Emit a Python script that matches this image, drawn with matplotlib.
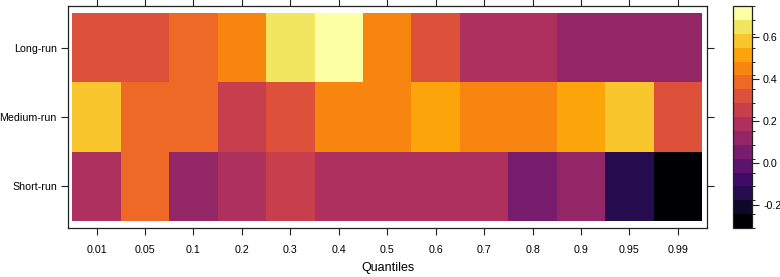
import numpy as np
import matplotlib
matplotlib.use("Agg")
import matplotlib.pyplot as plt
from matplotlib.colors import ListedColormap, BoundaryNorm
from matplotlib.cm import ScalarMappable

plt.rcParams['font.family'] = ['Liberation Sans', 'DejaVu Sans']
plt.rcParams['axes.unicode_minus'] = False

quantiles = ["0.01", "0.05", "0.1", "0.2", "0.3", "0.4", "0.5", "0.6", "0.7", "0.8", "0.9", "0.95", "0.99"]
horizons = ["Short-run", "Medium-run", "Long-run"]

short_run = [0.19, 0.39, 0.12, 0.19, 0.25, 0.19, 0.19, 0.19, 0.19, 0.06, 0.12, -0.15, -0.30]
medium_run = [0.59, 0.39, 0.39, 0.25, 0.32, 0.45, 0.45, 0.52, 0.45, 0.45, 0.52, 0.59, 0.32]
long_run = [0.32, 0.32, 0.39, 0.45, 0.65, 0.74, 0.45, 0.32, 0.19, 0.19, 0.12, 0.12, 0.12]

data = np.array([short_run, medium_run, long_run])

n_bins = 16
zmin, zmax = data.min(), data.max()
r = zmax - zmin
breaks = np.linspace(zmin - 0.01 * r, zmax + 0.01 * r, n_bins + 1)
cmap = ListedColormap(plt.get_cmap('inferno')(np.linspace(0, 1, n_bins)))
norm = BoundaryNorm(breaks, cmap.N)

fig = plt.figure(figsize=(7.8, 2.77), dpi=100)
ax = fig.add_axes([68/780, 49/277, 639/780, 222/277])
xe = np.arange(len(quantiles) + 1) - 0.5
ye = np.arange(len(horizons) + 1) - 0.5
ax.pcolormesh(xe, ye, data, cmap=cmap, norm=norm, edgecolors='none', antialiased=False)
ax.set_xlim(-0.59, len(quantiles) - 0.4)
ax.set_ylim(-0.6, len(horizons) - 0.4)

ax.set_xticks(np.arange(len(quantiles)))
ax.set_xticklabels(quantiles)
ax.set_yticks(np.arange(len(horizons)))
ax.set_yticklabels(horizons)
ax.tick_params(axis='both', which='both', direction='out', length=5, width=0.8,
               colors='#222222', labelsize=7.7, labelcolor='black',
               top=True, right=True, labeltop=False, labelright=False)
ax.tick_params(axis='x', pad=7)
ax.tick_params(axis='y', pad=3)
for s in ax.spines.values():
    s.set_linewidth(0.9)
    s.set_color('#222222')
ax.set_xlabel("Quantiles", fontsize=9, labelpad=5)

cax = fig.add_axes([733/780, 49/277, 19/780, 222/277])
sm = ScalarMappable(norm=norm, cmap=cmap)
cb = fig.colorbar(sm, cax=cax, ticks=[-0.2, 0.0, 0.2, 0.4, 0.6])
cb.ax.set_yticklabels(["-0.2", "0.0", "0.2", "0.4", "0.6"])
cb.ax.tick_params(length=5, width=0.8, labelsize=7.7, pad=3, colors='#222222', labelcolor='black')
cb.outline.set_linewidth(0.9)
cb.outline.set_edgecolor('#222222')

fig.savefig("out.png", dpi=100)
